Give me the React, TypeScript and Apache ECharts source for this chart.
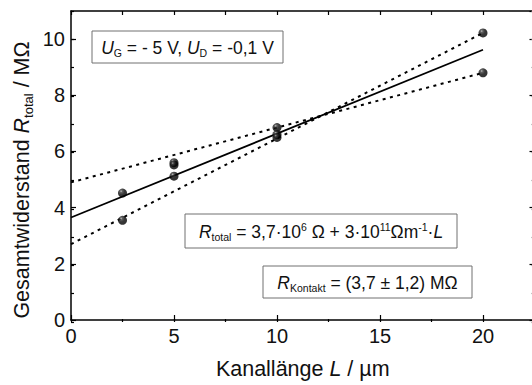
import React, { useEffect, useRef } from "react";
import * as echarts from "echarts";

// Measured points: channel length L (µm) vs total resistance (MΩ)
const lengthX = [2.5, 2.5, 5, 5, 5, 10, 10, 10, 20, 20];
const resistanceY = [4.52, 3.55, 5.6, 5.52, 5.12, 6.85, 6.6, 6.5, 10.22, 8.8];

// Linear fit and bounding (error) lines
const fitX = [0, 20];
const fitY = [3.65, 9.62];
const shallowBoundY = [4.9, 8.8];
const steepBoundY = [2.7, 10.22];

// Tick labels
const xTickLabels = ["0", "5", "10", "15", "20"];
const yTickLabels = ["0", "2", "4", "6", "8", "10"];

const FONT = '"Liberation Sans", Arial, Helvetica, sans-serif';

export default function App() {
  const ref = useRef<HTMLDivElement>(null);

  useEffect(() => {
    if (!ref.current) return;
    const chart = echarts.init(ref.current, undefined, { renderer: "svg" });

    const black = "#000";
    // container is wider than the window so that the right frame falls just outside the view
    const gridPos = { left: 71, top: 11, right: 5.5, bottom: 63 };

    const sphere = {
      type: "radial",
      x: 0.35,
      y: 0.3,
      r: 0.7,
      colorStops: [
        { offset: 0, color: "#b0b0b0" },
        { offset: 0.2, color: "#3a3a3a" },
        { offset: 0.55, color: "#050505" },
        { offset: 1, color: "#000" },
      ],
    };

    const pairs = (xs: number[], ys: number[]) => xs.map((x, i) => [x, ys[i]]);

    const richBase = {
      n: { fontSize: 17.5, fontFamily: FONT, lineHeight: 21, color: "#111" },
      i: { fontSize: 17.5, fontFamily: FONT, fontStyle: "italic", lineHeight: 21, color: "#111" },
      sub: { fontSize: 10.5, fontFamily: FONT, lineHeight: 10, verticalAlign: "bottom", color: "#111" },
      sup: { fontSize: 10.5, fontFamily: FONT, lineHeight: 10, verticalAlign: "top", color: "#111" },
    };

    const box = (x: number, y: number, w: number, h: number, text: string) => ({
      type: "group",
      children: [
        {
          type: "rect",
          shape: { x, y, width: w, height: h },
          style: { fill: "#fff", stroke: "#707070", lineWidth: 1 },
        },
        {
          type: "text",
          x: x + w / 2,
          y: y + h / 2 + 1,
          style: {
            text,
            rich: richBase,
            fontSize: 17.5,
            fontFamily: FONT,
            fill: "#111",
            align: "center",
            verticalAlign: "middle",
            textAlign: "center",
            textVerticalAlign: "middle",
          },
        },
      ],
    });

    const titleRich = {
      n: { fontSize: 21.5, fontFamily: FONT, lineHeight: 26, color: "#111" },
      i: { fontSize: 21.5, fontFamily: FONT, fontStyle: "italic", lineHeight: 26, color: "#111" },
      sub: { fontSize: 13, fontFamily: FONT, lineHeight: 13, verticalAlign: "bottom", color: "#111" },
    };

    const option: any = {
      animation: false,
      backgroundColor: "#fff",
      grid: [
        { ...gridPos, containLabel: false },
        { ...gridPos, containLabel: false },
      ],
      xAxis: [
        {
          type: "value",
          gridIndex: 0,
          position: "bottom",
          min: 0,
          max: 22.5,
          interval: 5,
          axisLine: { show: true, onZero: false, lineStyle: { color: black, width: 1.5 } },
          axisTick: { show: true, inside: true, length: 5, lineStyle: { color: black, width: 1.2 } },
          axisLabel: {
            show: true,
            margin: 6,
            fontSize: 20,
            fontFamily: FONT,
            color: "#111",
            showMaxLabel: false,
            formatter: (v: number) => (xTickLabels.includes(String(v)) ? String(v) : ""),
          },
          splitLine: { show: false },
          name: "Kanallänge {i|L} / µm",
          nameLocation: "middle",
          nameGap: 36,
          nameTextStyle: { fontSize: 21.5, fontFamily: FONT, color: "#111", rich: titleRich },
        },
        {
          type: "value",
          gridIndex: 0,
          position: "top",
          min: 0,
          max: 22.5,
          interval: 2.5,
          axisLine: { show: true, onZero: false, lineStyle: { color: black, width: 1.5 } },
          axisTick: { show: true, inside: true, length: 4, lineStyle: { color: black, width: 1.2 } },
          axisLabel: { show: false },
          splitLine: { show: false },
        },
        {
          type: "value",
          gridIndex: 1,
          position: "bottom",
          min: 0,
          max: 22.5,
          interval: 2.5,
          axisLine: { show: false, onZero: false },
          axisTick: { show: true, inside: true, length: 3, lineStyle: { color: black, width: 1.2 } },
          axisLabel: { show: false },
          splitLine: { show: false },
        },
      ],
      yAxis: [
        {
          type: "value",
          gridIndex: 0,
          position: "left",
          min: 0,
          max: 11,
          interval: 2,
          axisLine: { show: true, onZero: false, lineStyle: { color: black, width: 1.5 } },
          axisTick: { show: true, inside: true, length: 5, lineStyle: { color: black, width: 1.2 } },
          axisLabel: {
            show: true,
            margin: 6,
            fontSize: 20,
            fontFamily: FONT,
            color: "#111",
            showMaxLabel: false,
            formatter: (v: number) => (yTickLabels.includes(String(v)) ? String(v) : ""),
          },
          splitLine: { show: false },
        },
        {
          type: "value",
          gridIndex: 0,
          position: "right",
          min: 0,
          max: 11,
          interval: 2,
          axisLine: { show: true, onZero: false, lineStyle: { color: black, width: 1.5 } },
          axisTick: { show: true, inside: true, length: 5, lineStyle: { color: black, width: 1.2 } },
          axisLabel: { show: false },
          splitLine: { show: false },
        },
        {
          type: "value",
          gridIndex: 1,
          position: "left",
          min: 0,
          max: 11,
          interval: 1,
          axisLine: { show: false, onZero: false },
          axisTick: { show: true, inside: true, length: 3, lineStyle: { color: black, width: 1.2 } },
          axisLabel: { show: false },
          splitLine: { show: false },
        },
        {
          type: "value",
          gridIndex: 1,
          position: "right",
          min: 0,
          max: 11,
          interval: 1,
          axisLine: { show: false, onZero: false },
          axisTick: { show: true, inside: true, length: 3, lineStyle: { color: "#888", width: 1.2 } },
          axisLabel: { show: false },
          splitLine: { show: false },
        },
      ],
      series: [
        {
          type: "line",
          xAxisIndex: 0,
          yAxisIndex: 0,
          data: pairs(fitX, fitY),
          showSymbol: false,
          symbol: "none",
          lineStyle: { color: black, width: 1.8 },
          z: 2,
        },
        {
          type: "line",
          xAxisIndex: 0,
          yAxisIndex: 0,
          data: pairs(fitX, shallowBoundY),
          showSymbol: false,
          symbol: "none",
          lineStyle: { color: black, width: 2, type: [3, 4.5] },
          z: 2,
        },
        {
          type: "line",
          xAxisIndex: 0,
          yAxisIndex: 0,
          data: pairs(fitX, steepBoundY),
          showSymbol: false,
          symbol: "none",
          lineStyle: { color: black, width: 2, type: [3, 4.5] },
          z: 2,
        },
        {
          type: "scatter",
          xAxisIndex: 0,
          yAxisIndex: 0,
          data: pairs(lengthX, resistanceY),
          symbol: "circle",
          symbolSize: 9,
          itemStyle: { color: sphere, borderWidth: 0 },
          z: 5,
        },
      ],
      graphic: [
        box(92, 31, 191, 32, "{i|U}{sub|G}{n| = - 5 V, }{i|U}{sub|D}{n| = -0,1 V}"),
        box(185, 214, 272, 34, "{i|R}{sub|total}{n| = 3,7·10}{sup|6}{n| Ω + 3·10}{sup|11}{n|Ωm}{sup|-1}{n|·}{i|L}"),
        box(263, 266, 209, 32, "{i|R}{sub|Kontakt}{n| = (3,7 ± 1,2) MΩ}"),
        {
          type: "text",
          x: 22,
          y: 180,
          rotation: Math.PI / 2,
          style: {
            text: "{n|Gesamtwiderstand }{i|R}{sub|total}{n| / MΩ}",
            rich: titleRich,
            fontSize: 21.5,
            fontFamily: FONT,
            fill: "#111",
            align: "center",
            verticalAlign: "middle",
            textAlign: "center",
            textVerticalAlign: "middle",
          },
        },
      ],
    };

    chart.setOption(option);
    return () => chart.dispose();
  }, []);

  return (
    <div
      ref={ref}
      style={{ position: "fixed", left: 0, top: 0, width: 540, height: 385, background: "#fff" }}
    />
  );
}
